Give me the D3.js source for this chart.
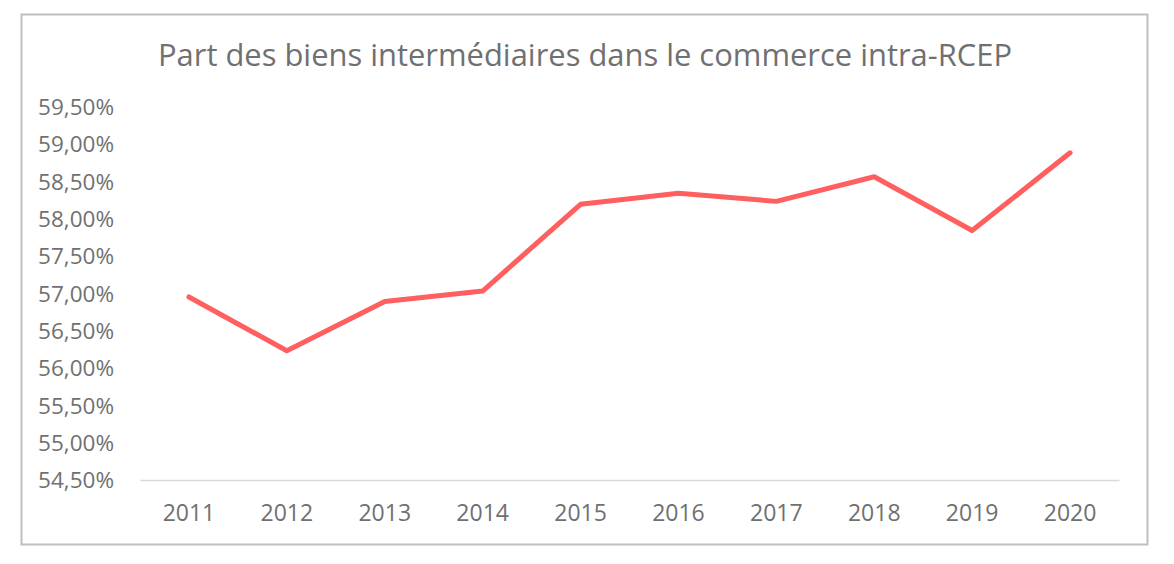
<!DOCTYPE html>
<html>
<head>
<meta charset="utf-8">
<script src="https://cdn.jsdelivr.net/npm/d3@7"></script>
<style>
html,body{margin:0;padding:0;background:#fff;}
svg{display:block;font-family:"Open Sans",sans-serif;}
</style>
</head>
<body>
<svg id="chart" width="1174" height="564"></svg>
<script>
const title = "Part des biens intermédiaires dans le commerce intra-RCEP";
const years = ["2011","2012","2013","2014","2015","2016","2017","2018","2019","2020"];
const shares = [56.95, 56.23, 56.89, 57.03, 58.19, 58.34, 58.23, 58.56, 57.84, 58.88];
const yTicks = [54.5, 55, 55.5, 56, 56.5, 57, 57.5, 58, 58.5, 59, 59.5];

const svg = d3.select("#chart");
const textColor = "#707070";

svg.append("rect")
  .attr("x", 21.5).attr("y", 14.5)
  .attr("width", 1126).attr("height", 530)
  .attr("fill", "#fff").attr("stroke", "#bfbfbf").attr("stroke-width", 2);

const x = d3.scaleBand().domain(years).range([140, 1119]);
const y = d3.scaleLinear().domain([54.5, 59.5]).range([480, 106.5]);

svg.append("text")
  .attr("x", 585).attr("y", 66)
  .attr("text-anchor", "middle")
  .attr("fill", textColor)
  .attr("font-size", 31)
  .attr("textLength", 854)
  .attr("lengthAdjust", "spacingAndGlyphs")
  .text(title);

const fmt = v => d3.format(".2f")(v).replace(".", ",") + "%";

const yAxis = svg.append("g")
  .attr("transform", "translate(114,0)")
  .call(d3.axisLeft(y).tickValues(yTicks).tickFormat(fmt).tickSize(0).tickPadding(0));
yAxis.select(".domain").remove();
yAxis.selectAll("text").attr("fill", textColor).attr("font-size", 22.5)
  .attr("font-family", "Open Sans, sans-serif").attr("dy", "0.35em");

const xAxis = svg.append("g")
  .attr("transform", "translate(0,480)")
  .call(d3.axisBottom(x).tickSize(0).tickPadding(0));
xAxis.select(".domain").attr("stroke", "#d9d9d9").attr("stroke-width", 1.5);
xAxis.selectAll("text").attr("fill", textColor).attr("font-size", 23)
  .attr("font-family", "Open Sans, sans-serif").attr("dy", null).attr("y", 41);

const line = d3.line()
  .x((d, i) => x(years[i]) + x.bandwidth() / 2)
  .y(d => y(d));

svg.append("path")
  .datum(shares)
  .attr("d", line)
  .attr("fill", "none")
  .attr("stroke", "#ff5f5f")
  .attr("stroke-width", 5)
  .attr("stroke-linecap", "round")
  .attr("stroke-linejoin", "round");
</script>
</body>
</html>
